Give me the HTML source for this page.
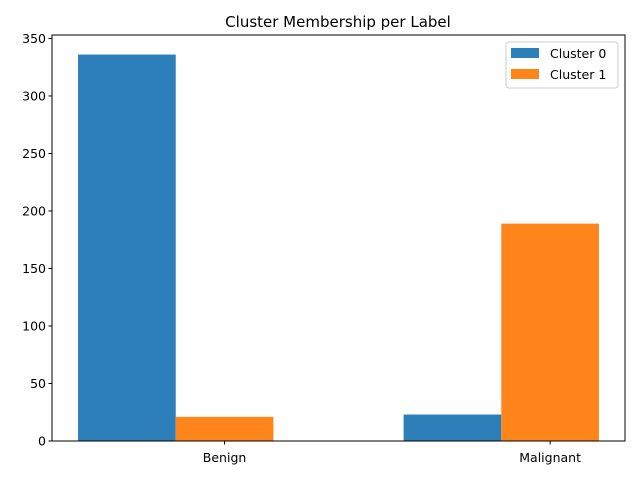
<!DOCTYPE html>
<html><head><meta charset="utf-8"><style>
body{margin:0;background:#fff;font-family:"Liberation Sans","DejaVu Sans",sans-serif}
svg text{font-family:"DejaVu Sans","Liberation Sans",sans-serif}
</style></head><body>
<svg id="c" width="640" height="480" xmlns="http://www.w3.org/2000/svg"></svg>
<script>
const categories=["Benign","Malignant"];
const cluster0=[336,23];
const cluster1=[21,189];
const yTicks=[0,50,100,150,200,250,300,350];
const seriesNames=["Cluster 0","Cluster 1"];
const colors=["#2c7fb8","#ff851b"];
const svg=document.getElementById('c');
const NS="http://www.w3.org/2000/svg";
const L=52,R=625,T=35,B=441;
const xmin=-0.38,xmax=1.38,ymax=353;
function x(v){return L+(v-xmin)/(xmax-xmin)*(R-L);}
function y(v){return B-v/ymax*(B-T);}
function el(t,a,p){const e=document.createElementNS(NS,t);for(const k in a)e.setAttribute(k,a[k]);(p||svg).appendChild(e);return e;}
const title=el('text',{x:338,y:27,'text-anchor':'middle','font-size':15,fill:'#000'});
title.textContent="Cluster Membership per Label";


const w=0.3;
[cluster0,cluster1].forEach((s,si)=>{
  s.forEach((v,i)=>{
    const x0=x(i-0.3+si*w),x1=x(i-0.3+(si+1)*w);
    const r=el('rect',{x:x0,y:y(v),width:x1-x0,height:B-y(v),fill:colors[si]});
    
    
  });
});
const frame=el('rect',{x:L,y:T,width:R-L,height:B-T,fill:'none',stroke:'#000','stroke-width':1});


yTicks.forEach(t=>{
  el('line',{x1:L-3.5,x2:L,y1:y(t),y2:y(t),stroke:'#000'});
  const tx=el('text',{x:L-6,y:y(t)+4.5,'text-anchor':'end','font-size':12.5});
  tx.textContent=t;
  
  
});
categories.forEach((c,i)=>{
  const px=x(i+0.15);
  el('line',{x1:px,x2:px,y1:B,y2:B+3.5,stroke:'#000'});
  const tx=el('text',{x:px,y:B+21,'text-anchor':'middle','font-size':12.5});
  tx.textContent=c;
  
  
});
const g=el('g',{});


el('rect',{x:506,y:42,width:112,height:46,rx:3,fill:'#fff',stroke:'#ccc'},g);
seriesNames.forEach((n,i)=>{
  el('rect',{x:511,y:48+i*21,width:28,height:10,fill:colors[i]},g);
  const tx=el('text',{x:550,y:58+i*21,'font-size':12.5},g);
  tx.textContent=n;
  
  
});
</script>
</body></html>
